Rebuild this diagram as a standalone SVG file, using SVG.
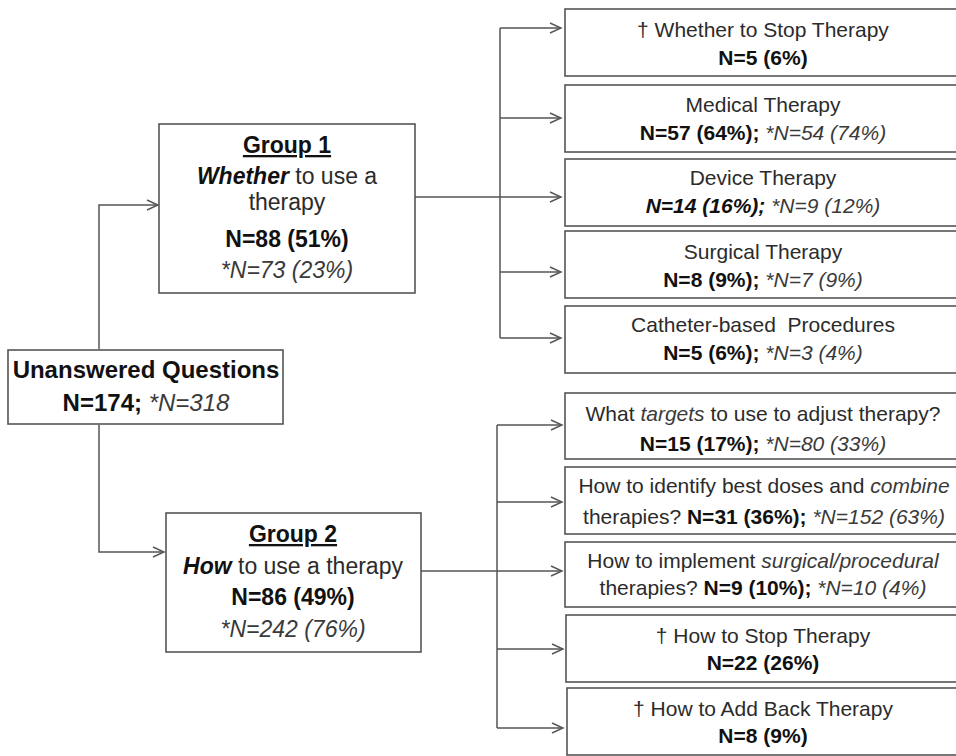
<svg xmlns="http://www.w3.org/2000/svg" width="956" height="756" viewBox="0 0 956 756">
<style>
text{font-family:"Liberation Sans",Arial,sans-serif;fill:#2b2b2b;text-anchor:middle}
.r{font-size:21px}
.g{font-size:23px}
.root{font-size:24px}
.b{font-weight:bold;fill:#111}
.i{font-style:italic;fill:#3a3a3a}
.b.i{fill:#111}
.u{text-decoration:underline}
rect{fill:#fff;stroke:#555;stroke-width:1.6}
.c{fill:none;stroke:#555;stroke-width:1.5}
</style>
<defs>
<marker id="ah" markerUnits="userSpaceOnUse" markerWidth="14" markerHeight="12" refX="12" refY="6" orient="auto">
<path d="M1,1 L12,6 L1,11" fill="none" stroke="#555" stroke-width="1.4"/>
</marker>
</defs>
<rect x="0" y="0" width="956" height="756" style="fill:#fff;stroke:none"/>
<g id="connectors">
<path class="c" d="M99,349 V205 H158" marker-end="url(#ah)"/>
<path class="c" d="M99,425 V552 H164" marker-end="url(#ah)"/>
<path class="c" d="M415,197 H561" marker-end="url(#ah)"/>
<path class="c" d="M500,28 V338"/>
<path class="c" d="M500,28 H561" marker-end="url(#ah)"/>
<path class="c" d="M500,118 H561" marker-end="url(#ah)"/>
<path class="c" d="M500,272 H561" marker-end="url(#ah)"/>
<path class="c" d="M500,338 H561" marker-end="url(#ah)"/>
<path class="c" d="M421,571 H562" marker-end="url(#ah)"/>
<path class="c" d="M497,425 V728"/>
<path class="c" d="M497,425 H562" marker-end="url(#ah)"/>
<path class="c" d="M497,502 H562" marker-end="url(#ah)"/>
<path class="c" d="M497,649 H563" marker-end="url(#ah)"/>
<path class="c" d="M497,728 H563" marker-end="url(#ah)"/>
</g>
<g id="root">
<rect x="8" y="350" width="275" height="74"/>
<text class="root b" x="146" y="378">Unanswered Questions</text>
<text class="root" x="146" y="411"><tspan class="b">N=174;</tspan> <tspan class="i">*N=318</tspan></text>
</g>
<g id="group1">
<rect x="159" y="124" width="256" height="169"/>
<text class="g b u" x="287" y="153">Group 1</text>
<text class="g" x="287" y="184"><tspan class="b i">Whether</tspan> to use a</text>
<text class="g" x="287" y="210">therapy</text>
<text class="g b" x="287" y="247">N=88 (51%)</text>
<text class="g i" x="287" y="278">*N=73 (23%)</text>
</g>
<g id="group2">
<rect x="166" y="513" width="255" height="139"/>
<text class="g b u" x="293" y="542">Group 2</text>
<text class="g" x="293" y="574"><tspan class="b i">How</tspan> to use a therapy</text>
<text class="g b" x="293" y="605">N=86 (49%)</text>
<text class="g i" x="293" y="637">*N=242 (76%)</text>
</g>
<g id="stop">
<rect x="565" y="9" width="400" height="67"/>
<text class="r" x="763" y="37">† Whether to Stop Therapy</text>
<text class="r b" x="763" y="65">N=5 (6%)</text>
</g>
<g id="medical">
<rect x="565" y="85" width="400" height="67"/>
<text class="r" x="763" y="112">Medical Therapy</text>
<text class="r" x="763" y="140"><tspan class="b">N=57 (64%);</tspan> <tspan class="i">*N=54 (74%)</tspan></text>
</g>
<g id="device">
<rect x="565" y="159" width="400" height="67"/>
<text class="r" x="763" y="185">Device Therapy</text>
<text class="r" x="763" y="213"><tspan class="b i">N=14 (16%);</tspan> <tspan class="i">*N=9 (12%)</tspan></text>
</g>
<g id="surgical">
<rect x="565" y="231" width="400" height="67"/>
<text class="r" x="763" y="259">Surgical Therapy</text>
<text class="r" x="763" y="287"><tspan class="b">N=8 (9%);</tspan> <tspan class="i">*N=7 (9%)</tspan></text>
</g>
<g id="catheter">
<rect x="565" y="306" width="400" height="67"/>
<text class="r" x="763" y="332" xml:space="preserve">Catheter-based  Procedures</text>
<text class="r" x="763" y="360"><tspan class="b">N=5 (6%);</tspan> <tspan class="i">*N=3 (4%)</tspan></text>
</g>
<g id="targets">
<rect x="565" y="393" width="400" height="66"/>
<text class="r" x="763" y="421">What <tspan class="i">targets</tspan> to use to adjust therapy?</text>
<text class="r" x="763" y="451"><tspan class="b">N=15 (17%);</tspan> <tspan class="i">*N=80 (33%)</tspan></text>
</g>
<g id="doses">
<rect x="565" y="467" width="400" height="67"/>
<text class="r" x="764" y="493">How to identify best doses and <tspan class="i">combine</tspan></text>
<text class="r" x="764" y="524">therapies? <tspan class="b">N=31 (36%);</tspan> <tspan class="i">*N=152 (63%)</tspan></text>
</g>
<g id="implement">
<rect x="565" y="542" width="400" height="65"/>
<text class="r" x="763" y="568">How to implement <tspan class="i">surgical/procedural</tspan></text>
<text class="r" x="763" y="595">therapies? <tspan class="b">N=9 (10%);</tspan> <tspan class="i">*N=10 (4%)</tspan></text>
</g>
<g id="howstop">
<rect x="566" y="615" width="400" height="67"/>
<text class="r" x="763" y="643">† How to Stop Therapy</text>
<text class="r b" x="763" y="670">N=22 (26%)</text>
</g>
<g id="addback">
<rect x="567" y="688" width="400" height="67"/>
<text class="r" x="763" y="716">† How to Add Back Therapy</text>
<text class="r b" x="763" y="743">N=8 (9%)</text>
</g>
</svg>
